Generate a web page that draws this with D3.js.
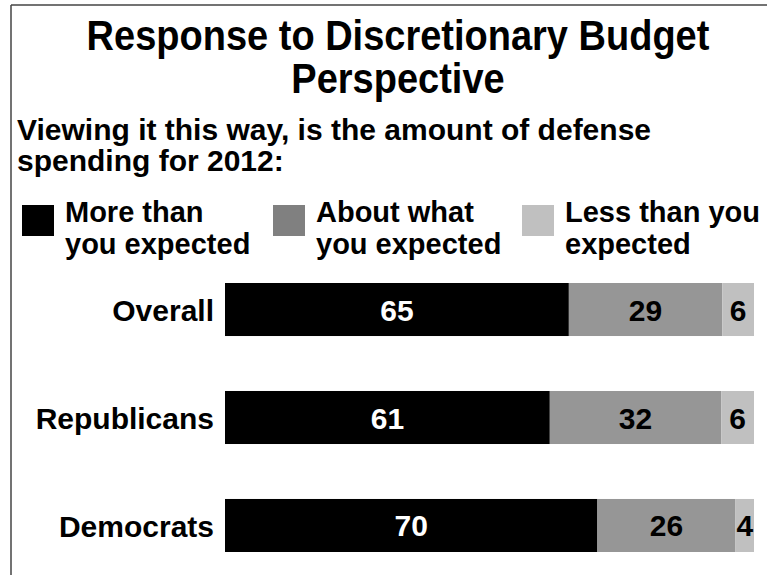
<!DOCTYPE html>
<html>
<head>
<meta charset="utf-8">
<script src="https://cdn.jsdelivr.net/npm/d3@7/dist/d3.min.js"></script>
<style>
  html, body { margin: 0; padding: 0; background: #fff; }
  svg { display: block; }
  text { font-family: "Liberation Sans", Arial, sans-serif; font-weight: bold; }
</style>
</head>
<body>
<svg id="chart" width="767" height="575"></svg>
<script>
// ---- data ----
const titleLines = ["Response to Discretionary Budget", "Perspective"];
const subtitleLines = ["Viewing it this way, is the amount of defense", "spending for 2012:"];
const categories = ["Overall", "Republicans", "Democrats"];
const seriesNames = ["More than you expected", "About what you expected", "Less than you expected"];
const legendLines = [["More than", "you expected"], ["About what", "you expected"], ["Less than you", "expected"]];
const moreThan = [65, 61.4, 70.4];
const aboutWhat = [29, 32.4, 26.1];
const lessThan = [6, 6.2, 3.5];

// ---- build table ----
const table = categories.map((c, i) => ({ category: c, more: moreThan[i], about: aboutWhat[i], less: lessThan[i] }));
const keys = ["more", "about", "less"];
const barColors = ["#000000", "#969696", "#c0c0c0"];
const legendColors = ["#000000", "#808080", "#c0c0c0"];
const labelColors = ["#ffffff", "#000000", "#000000"];

const svg = d3.select("#chart");

// frame (top and left lines)
svg.append("line").attr("x1", 11).attr("x2", 767).attr("y1", 5).attr("y2", 5).attr("stroke", "#444").attr("stroke-width", 1.5);
svg.append("line").attr("x1", 11).attr("x2", 11).attr("y1", 5).attr("y2", 575).attr("stroke", "#444").attr("stroke-width", 1.5);

// title (slightly taller glyphs, as in the reference)
const tg = svg.append("g").attr("transform", "translate(398,0) scale(1,1.1)");
tg.append("text").attr("x", 0).attr("y", 50 / 1.1).attr("text-anchor", "middle")
  .attr("font-size", 38).text(titleLines[0]);
tg.append("text").attr("x", 0).attr("y", 93 / 1.1).attr("text-anchor", "middle")
  .attr("font-size", 38).text(titleLines[1]);

// subtitle
subtitleLines.forEach((t, i) => {
  svg.append("text").attr("x", 17).attr("y", 140 + i * 31).attr("font-size", 30).text(t);
});

// legend
const legendX = [22, 273, 522];
legendLines.forEach((lines, i) => {
  const g = svg.append("g");
  g.append("rect").attr("x", legendX[i]).attr("y", 205).attr("width", 32).attr("height", 31).attr("fill", legendColors[i]);
  lines.forEach((t, j) => {
    g.append("text").attr("x", legendX[i] + 43).attr("y", 222 + j * 32).attr("font-size", 29).text(t);
  });
});

// scales
const x = d3.scaleLinear().domain([0, 100]).range([225, 754]);
const y = d3.scaleBand().domain(categories).range([283, 552]).paddingInner(0.509).paddingOuter(0);

const stack = d3.stack().keys(keys)(table);

stack.forEach((layer, li) => {
  const g = svg.append("g");
  g.selectAll("rect").data(layer).join("rect")
    .attr("x", d => x(d[0]))
    .attr("y", d => y(d.data.category))
    .attr("width", d => x(d[1]) - x(d[0]))
    .attr("height", y.bandwidth())
    .attr("fill", barColors[li]);
  g.selectAll("text").data(layer).join("text")
    .attr("x", d => (x(d[0]) + x(d[1])) / 2)
    .attr("y", d => y(d.data.category) + y.bandwidth() / 2 + 11)
    .attr("text-anchor", "middle")
    .attr("font-size", 30)
    .attr("fill", labelColors[li])
    .text(d => Math.round(d.data[keys[li]]));
});

// category axis labels
const yAxis = d3.axisLeft(y).tickSize(0).tickPadding(11);
const ax = svg.append("g").attr("transform", `translate(${x(0)},0)`).call(yAxis);
ax.select(".domain").remove();
ax.selectAll("text").attr("font-size", 30).attr("fill", "#000")
  .attr("font-family", '"Liberation Sans", Arial, sans-serif').attr("font-weight", "bold")
  .attr("dy", "0.38em");
</script>
</body>
</html>
